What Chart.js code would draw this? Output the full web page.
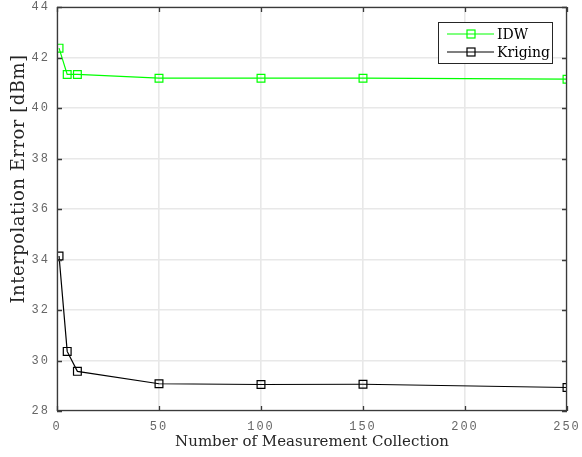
<!DOCTYPE html>
<html>
<head>
<meta charset="utf-8">
<script src="https://cdn.jsdelivr.net/npm/chart.js@4"></script>
<style>
  html, body { margin: 0; padding: 0; background: #fff; }
  #wrap { width: 582px; height: 457px; }
</style>
</head>
<body>
<div id="wrap"><canvas id="chart" width="582" height="457"></canvas></div>
<script>
// measurement collection counts
const collections = [1, 5, 10, 50, 100, 150, 250];
const idwError = [42.37, 41.33, 41.33, 41.18, 41.18, 41.18, 41.14];
const krigingError = [34.14, 30.36, 29.57, 29.08, 29.05, 29.06, 28.93];
const xTicks = [0, 50, 100, 150, 200, 250];
const yTicks = [28, 30, 32, 34, 36, 38, 40, 42, 44];
const xTitle = 'Number of Measurement Collection';
const yTitle = 'Interpolation Error [dBm]';

const tickFont = { family: "'Liberation Mono', 'DejaVu Sans Mono', monospace", size: 12 };
const serif = "'DejaVu Serif', 'Liberation Serif', serif";

function pts(xs, ys) {
    return xs.map((x, i) => ({ x: x, y: ys[i] }));
}

// MATLAB style box with inward ticks + legend + axis labels
const boxPlugin = {
    id: 'box',
    beforeDraw(chart) {
        // wide spaced tick digits
        chart.ctx.letterSpacing = '2px';
    },
    afterDraw(chart) {
        const ctx = chart.ctx;
        ctx.letterSpacing = '0px';
        const a = chart.chartArea;
        const xs = chart.scales.x, ys = chart.scales.y;
        ctx.save();
        ctx.strokeStyle = '#3a3a3a';
        ctx.lineWidth = 1.3;
        ctx.strokeRect(a.left + 0.5, a.top + 0.5, a.right - a.left - 1, a.bottom - a.top - 1);
        ctx.beginPath();
        const t = 5;
        xTicks.forEach(v => {
            const px = Math.round(xs.getPixelForValue(v)) + 0.5;
            ctx.moveTo(px, a.bottom); ctx.lineTo(px, a.bottom - t);
            ctx.moveTo(px, a.top); ctx.lineTo(px, a.top + t);
        });
        yTicks.forEach(v => {
            const py = Math.round(ys.getPixelForValue(v)) + 0.5;
            ctx.moveTo(a.left, py); ctx.lineTo(a.left + t, py);
            ctx.moveTo(a.right, py); ctx.lineTo(a.right - t, py);
        });
        ctx.stroke();

        ctx.fillStyle = '#262626';
        ctx.textAlign = 'center';
        ctx.textBaseline = 'middle';

        // x label
        ctx.font = '15px ' + serif;
        ctx.fillText(xTitle, (a.left + a.right) / 2, 442);

        // y label (sits a bit above the axis centre like the original)
        ctx.save();
        ctx.translate(19, 179);
        ctx.rotate(-Math.PI / 2);
        ctx.font = '18px ' + serif;
        ctx.letterSpacing = '0.5px';
        ctx.fillText(yTitle, 0, 0);
        ctx.restore();

        // legend
        const lx = 438, ly = 22, lw = 114, lh = 41;
        ctx.textAlign = 'left';
        ctx.fillStyle = '#fff';
        ctx.fillRect(lx, ly, lw, lh);
        ctx.strokeStyle = '#262626';
        ctx.lineWidth = 1;
        ctx.strokeRect(lx + 0.5, ly + 0.5, lw, lh);
        chart.data.datasets.forEach((ds, i) => {
            const y = ly + 12 + i * 18;
            ctx.strokeStyle = ds.borderColor;
            ctx.lineWidth = 1.2;
            ctx.beginPath();
            ctx.moveTo(lx + 9, y); ctx.lineTo(lx + 56, y);
            ctx.stroke();
            ctx.strokeRect(lx + 29, y - 4, 8, 8);
            ctx.fillStyle = '#000';
            ctx.font = '14px ' + serif;
            ctx.fillText(ds.label, lx + 59, y + 1);
        });
        ctx.restore();
    }
};

new Chart(document.getElementById('chart'), {
    type: 'line',
    data: {
        datasets: [
            {
                label: 'IDW',
                data: pts(collections, idwError),
                borderColor: '#00ff00',
                backgroundColor: 'rgba(0,0,0,0)',
                borderWidth: 1.2,
                pointStyle: 'rect',
                pointRadius: 5.5,
                pointBorderWidth: 1.2,
                tension: 0
            },
            {
                label: 'Kriging',
                data: pts(collections, krigingError),
                borderColor: '#000000',
                backgroundColor: 'rgba(0,0,0,0)',
                borderWidth: 1.2,
                pointStyle: 'rect',
                pointRadius: 5.5,
                pointBorderWidth: 1.2,
                tension: 0
            }
        ]
    },
    options: {
        responsive: false,
        animation: false,
        layout: { padding: { top: 7, right: 15, left: 0, bottom: 0 } },
        plugins: {
            legend: { display: false },
            tooltip: { enabled: false }
        },
        scales: {
            x: {
                type: 'linear',
                min: 0, max: 250,
                afterBuildTicks: s => { s.ticks = xTicks.map(v => ({ value: v })); },
                afterFit: s => { s.height = 46; s.paddingLeft = 0; s.paddingRight = 0; },
                grid: { color: '#e8e8e8', lineWidth: 1.6, drawTicks: false },
                border: { display: false },
                ticks: { color: '#666666', font: tickFont, padding: 9, maxRotation: 0 },
                title: { display: false }
            },
            y: {
                min: 28, max: 44,
                afterBuildTicks: s => { s.ticks = yTicks.map(v => ({ value: v })); },
                afterFit: s => { s.width = 57; s.paddingTop = 0; s.paddingBottom = 0; },
                grid: { color: '#e8e8e8', lineWidth: 1.6, drawTicks: false },
                border: { display: false },
                ticks: { color: '#666666', font: tickFont, padding: 7 },
                title: { display: false }
            }
        }
    },
    plugins: [boxPlugin]
});
</script>
</body>
</html>
